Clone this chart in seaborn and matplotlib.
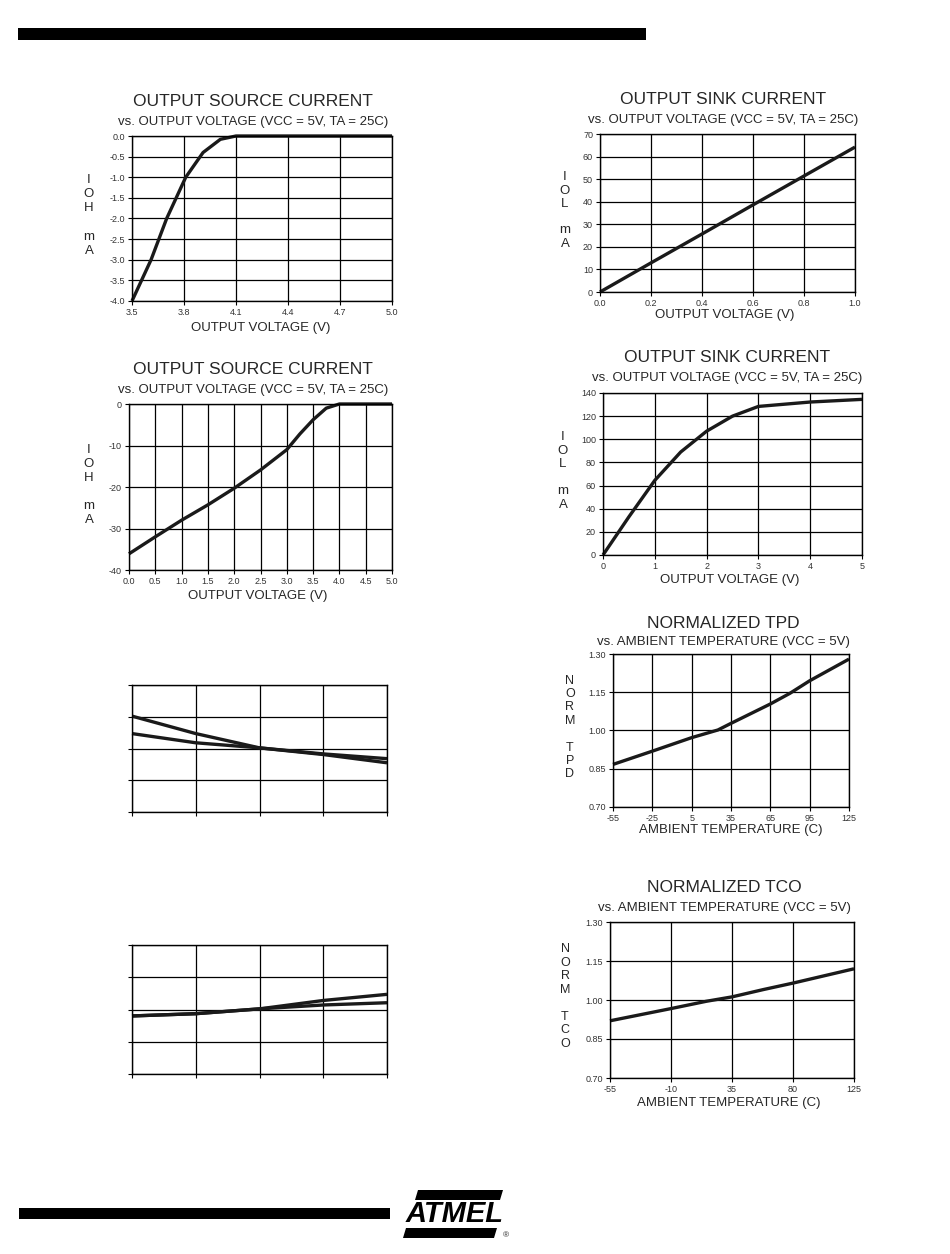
import matplotlib
matplotlib.use("Agg")
import matplotlib.pyplot as plt
import seaborn as sns
from matplotlib.patches import Rectangle, Polygon

# values
src1_v = [3.50, 3.61, 3.70, 3.81, 3.91, 4.01, 4.10, 4.40, 4.70, 5.00]
src1_i = [-4.0, -3.0, -2.0, -1.0, -0.40, -0.08, 0.0, 0.0, 0.0, 0.0]
src1_xt = ["3.5", "3.8", "4.1", "4.4", "4.7", "5.0"]
src1_yt = ["0.0", "-0.5", "-1.0", "-1.5", "-2.0", "-2.5", "-3.0", "-3.5", "-4.0"]

sink1_v = [0.0, 0.2, 0.4, 0.6, 0.8, 1.0]
sink1_i = [0.0, 12.9, 25.7, 38.6, 51.4, 64.2]
sink1_xt = ["0.0", "0.2", "0.4", "0.6", "0.8", "1.0"]
sink1_yt = ["70", "60", "50", "40", "30", "20", "10", "0"]

src2_v = [0.0, 0.5, 1.0, 1.5, 2.0, 2.5, 3.0, 3.25, 3.5, 3.75, 4.0, 4.5, 5.0]
src2_i = [-36.1, -32.0, -28.0, -24.3, -20.3, -15.9, -11.0, -7.2, -3.8, -1.0, 0.0, 0.0, 0.0]
src2_xt = ["0.0", "0.5", "1.0", "1.5", "2.0", "2.5", "3.0", "3.5", "4.0", "4.5", "5.0"]
src2_yt = ["0", "-10", "-20", "-30", "-40"]

sink2_v = [0.0, 0.5, 1.0, 1.5, 2.0, 2.5, 3.0, 4.0, 5.0]
sink2_i = [0.0, 33.0, 64.5, 89.0, 107.0, 120.0, 128.4, 132.2, 134.5]
sink2_xt = ["0", "1", "2", "3", "4", "5"]
sink2_yt = ["140", "120", "100", "80", "60", "40", "20", "0"]

tpd_t = [-55, -25, 5, 25, 35, 65, 80, 95, 125]
tpd_n = [0.867, 0.919, 0.972, 1.002, 1.028, 1.104, 1.146, 1.195, 1.28]
tpd_xt = ["-55", "-25", "5", "35", "65", "95", "125"]
norm_yt = ["1.30", "1.15", "1.00", "0.85", "0.70"]

tco_t = [-55, -10, 16, 35, 58, 80, 125]
tco_n = [0.920, 0.967, 0.995, 1.012, 1.040, 1.065, 1.120]
tco_xt = ["-55", "-10", "35", "80", "125"]

blank_x = [0, 1, 2, 3, 4]
blank1_a = [3.02, 2.47, 2.02, 1.81, 1.55]
blank1_b = [2.47, 2.18, 2.02, 1.83, 1.68]
blank2_a = [1.80, 1.87, 2.02, 2.28, 2.47]
blank2_b = [1.80, 1.87, 2.02, 2.14, 2.21]

W, H = 950, 1254
sns.set_style("white")
plt.rcParams["font.family"] = ["Liberation Sans", "DejaVu Sans"]

fig = plt.figure(figsize=(W / 100, H / 100), dpi=100)
INK = "#1a1a1a"


def fx(x):
    return x / W


def fy(y):
    return 1 - y / H


def make_axes(box, xlim, ylim, xstep, ystep, xt=None, yt=None):
    x0, y0, x1, y1 = box
    ax = fig.add_axes([fx(x0), fy(y1), (x1 - x0) / W, (y1 - y0) / H])
    ax.set_xlim(xlim)
    ax.set_ylim(ylim)
    n_x = round((xlim[1] - xlim[0]) / xstep)
    n_y = round((ylim[1] - ylim[0]) / ystep)
    ax.set_xticks([xlim[0] + k * xstep for k in range(n_x + 1)])
    ax.set_yticks([ylim[0] + k * ystep for k in range(n_y + 1)])
    ax.set_xticklabels(xt if xt else [])
    ax.set_yticklabels(list(reversed(yt)) if yt else [])
    ax.grid(True, color="black", lw=0.9)
    ax.set_axisbelow(True)
    for s in ax.spines.values():
        s.set_color("black")
        s.set_linewidth(1.0)
        s.set_visible(True)
    ax.tick_params(direction="out", length=3, width=0.8, pad=2,
                   labelsize=6.5, labelcolor="#333333", colors="black",
                   left=True, bottom=True)
    return ax


def curve(ax, xs, ys):
    sns.lineplot(x=xs, y=ys, ax=ax, color=INK, lw=2.4, sort=False,
                 estimator=None, clip_on=False, solid_capstyle="butt")


def titles(cx, ty, sty, title, sub):
    fig.text(fx(cx), fy(ty), title, ha="center", va="center", fontsize=12.5)
    fig.text(fx(cx), fy(sty), sub, ha="center", va="center", fontsize=9.5)


def ylab(x, cy, letters, spacing, size=9.5):
    fig.text(fx(x), fy(cy), "\n".join(letters), ha="center", va="center",
             fontsize=size, linespacing=spacing / (size * 100 / 72))


sub_v = "vs. OUTPUT VOLTAGE (VCC = 5V, TA = 25C)"
sub_t = "vs. AMBIENT TEMPERATURE (VCC = 5V)"

# top left: source current 3.5-5 V
ax = make_axes((132, 136, 392, 301), (3.5, 5.0), (-4.0, 0.0), 0.3, 0.5, src1_xt, src1_yt)
curve(ax, src1_v, src1_i)
titles(253, 101, 122, "OUTPUT SOURCE CURRENT", sub_v)
fig.text(fx(261), fy(328), "OUTPUT VOLTAGE (V)", ha="center", va="center", fontsize=9.5)
ylab(89, 215.5, ["I", "O", "H", "", "m", "A"], 16.2)

# top right: sink current 0-1 V
ax = make_axes((600, 134, 855, 292), (0.0, 1.0), (0, 70), 0.2, 10, sink1_xt, sink1_yt)
curve(ax, sink1_v, sink1_i)
titles(723, 100, 120, "OUTPUT SINK CURRENT", sub_v)
fig.text(fx(725), fy(315), "OUTPUT VOLTAGE (V)", ha="center", va="center", fontsize=9.5)
ylab(565, 210.5, ["I", "O", "L", "", "m", "A"], 15.0)

# middle left: source current 0-5 V
ax = make_axes((129, 404, 392, 570), (0.0, 5.0), (-40, 0), 0.5, 10, src2_xt, src2_yt)
curve(ax, src2_v, src2_i)
titles(253, 370, 390, "OUTPUT SOURCE CURRENT", sub_v)
fig.text(fx(258), fy(596), "OUTPUT VOLTAGE (V)", ha="center", va="center", fontsize=9.5)
ylab(89, 485, ["I", "O", "H", "", "m", "A"], 16.0)

# middle right: sink current 0-5 V
ax = make_axes((603, 393, 862, 555), (0, 5), (0, 140), 1, 20, sink2_xt, sink2_yt)
curve(ax, sink2_v, sink2_i)
titles(727, 358, 378, "OUTPUT SINK CURRENT", sub_v)
fig.text(fx(730), fy(580), "OUTPUT VOLTAGE (V)", ha="center", va="center", fontsize=9.5)
ylab(563, 471, ["I", "O", "L", "", "m", "A"], 15.6)

# lower left: unlabeled pair of curves
ax = make_axes((132, 685, 387, 812), (0, 4), (0, 4), 1, 1)
curve(ax, blank_x, blank1_a)
curve(ax, blank_x, blank1_b)

ax = make_axes((132, 945, 387, 1074), (0, 4), (0, 4), 1, 1)
curve(ax, blank_x, blank2_a)
curve(ax, blank_x, blank2_b)

# normalized TPD
ax = make_axes((613, 654, 849, 807), (-55, 125), (0.70, 1.30), 30, 0.15, tpd_xt, norm_yt)
curve(ax, tpd_t, tpd_n)
titles(723, 623, 642, "NORMALIZED TPD", sub_t)
fig.text(fx(731), fy(830), "AMBIENT TEMPERATURE (C)", ha="center", va="center", fontsize=9.5)
ylab(570, 727.5, ["N", "O", "R", "M", "", "T", "P", "D"], 14.4, 9)

# normalized TCO
ax = make_axes((610, 922, 854, 1078), (-55, 125), (0.70, 1.30), 45, 0.15, tco_xt, norm_yt)
curve(ax, tco_t, tco_n)
titles(724, 888, 908, "NORMALIZED TCO", sub_t)
fig.text(fx(729), fy(1103), "AMBIENT TEMPERATURE (C)", ha="center", va="center", fontsize=9.5)
ylab(565, 996.5, ["N", "O", "R", "M", "", "T", "C", "O"], 14.7, 9)

# page header / footer bars
def bar(x0, y0, x1, y1):
    fig.add_artist(Rectangle((fx(x0), fy(y1)), (x1 - x0) / W, (y1 - y0) / H,
                             transform=fig.transFigure, color="black", lw=0))


bar(18, 28, 646, 40)
bar(19, 1208, 390, 1219)

# Atmel logo
fig.add_artist(Polygon([(fx(418), fy(1190)), (fx(503), fy(1190)),
                        (fx(500), fy(1200)), (fx(415), fy(1200))],
                       closed=True, transform=fig.transFigure, color="black", lw=0))
fig.add_artist(Polygon([(fx(406), fy(1228)), (fx(497), fy(1228)),
                        (fx(494), fy(1238)), (fx(403), fy(1238))],
                       closed=True, transform=fig.transFigure, color="black", lw=0))
fig.text(fx(455), fy(1214), "ATMEL", ha="center", va="center", fontsize=21,
         fontweight="bold", style="italic", color="black")
fig.text(fx(506), fy(1236), "®", ha="center", va="center", fontsize=6)

fig.savefig("out.png", dpi=100)
